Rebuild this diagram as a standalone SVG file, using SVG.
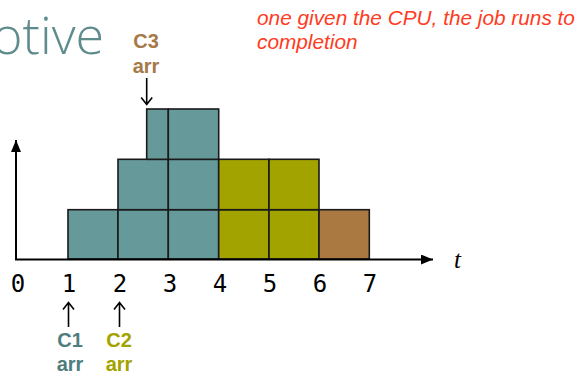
<svg xmlns="http://www.w3.org/2000/svg" width="577" height="375" viewBox="0 0 577 375">
<style>
.box{stroke:#1a1a1a;stroke-width:1.6}
.teal{fill:#669999}
.olive{fill:#A3A300}
.brown{fill:#AA7942}
.axis{stroke:#000;stroke-width:2;fill:none}
.tick{font-family:"DejaVu Sans Mono",monospace;font-size:24px;fill:#000;text-anchor:middle}
.lbl{font-family:"Liberation Sans",Arial,sans-serif;font-weight:bold;font-size:20px;text-anchor:middle}
.arr{stroke:#000;stroke-width:1.6;fill:none}
</style>
<defs>
<marker id="ah" viewBox="0 0 12 10" refX="12" refY="5" markerWidth="12" markerHeight="10" markerUnits="userSpaceOnUse" orient="auto">
<path d="M0,0 L12,5 L0,10 Z" fill="#000"/>
</marker>
</defs>
<text x="-8" y="54" font-family="'Open Sans','Liberation Sans',sans-serif" font-weight="300" font-size="52" fill="#5E8C8C">otive</text>
<g id="note">
<text font-family="'Liberation Sans',Arial,sans-serif" font-style="italic" font-size="20.8" fill="#FF3B22"><tspan x="257" y="25">one given the CPU, the job runs to</tspan><tspan x="257" y="49">completion</tspan></text>
</g>
<g id="blocks">
<rect class="box teal" x="68" y="209.7" width="50" height="49.3"/>
<rect class="box teal" x="118" y="209.7" width="50.3" height="49.3"/>
<rect class="box teal" x="168.3" y="209.7" width="50.4" height="49.3"/>
<rect class="box olive" x="218.7" y="209.7" width="50.3" height="49.3"/>
<rect class="box olive" x="269" y="209.7" width="50" height="49.3"/>
<rect class="box brown" x="319" y="209.7" width="50.3" height="49.3"/>
<rect class="box teal" x="118" y="159.3" width="50.3" height="50.4"/>
<rect class="box teal" x="168.3" y="159.3" width="50.4" height="50.4"/>
<rect class="box olive" x="218.7" y="159.3" width="50.3" height="50.4"/>
<rect class="box olive" x="269" y="159.3" width="50" height="50.4"/>
<rect class="box teal" x="146.7" y="109" width="21.6" height="50.3"/>
<rect class="box teal" x="168.3" y="109" width="50.4" height="50.3"/>
</g>
<g id="connectors">
<line class="axis" x1="16" y1="259.5" x2="16" y2="140" marker-end="url(#ah)"/>
<line class="axis" x1="15" y1="259.5" x2="433" y2="259.5" marker-end="url(#ah)"/>
<path class="arr" d="M146.7,78 V104.5 M141.2,97.5 L146.7,104.5 L152.2,97.5"/>
<path class="arr" d="M68.5,327 V302.5 M63,309.5 L68.5,302.5 L74,309.5"/>
<path class="arr" d="M119.5,327 V302.5 M114,309.5 L119.5,302.5 L125,309.5"/>
</g>
<g id="ticks">
<text class="tick" x="18" y="291.5">0</text>
<text class="tick" x="69" y="291.5">1</text>
<text class="tick" x="120" y="291.5">2</text>
<text class="tick" x="170" y="291.5">3</text>
<text class="tick" x="220" y="291.5">4</text>
<text class="tick" x="270" y="291.5">5</text>
<text class="tick" x="320" y="291.5">6</text>
<text class="tick" x="370" y="291.5">7</text>
<text x="454" y="268" font-family="'Liberation Serif',serif" font-style="italic" font-size="25" fill="#000">t</text>
</g>
<g id="c3">
<text class="lbl" x="146" y="48" fill="#A67A48">C3</text>
<text class="lbl" x="146" y="72.5" fill="#A67A48">arr</text>
</g>
<g id="c1">
<text class="lbl" x="70" y="347" fill="#4F7D7D">C1</text>
<text class="lbl" x="70" y="371" fill="#4F7D7D">arr</text>
</g>
<g id="c2">
<text class="lbl" x="119" y="347" fill="#A3A300">C2</text>
<text class="lbl" x="119" y="371" fill="#A3A300">arr</text>
</g>
</svg>
